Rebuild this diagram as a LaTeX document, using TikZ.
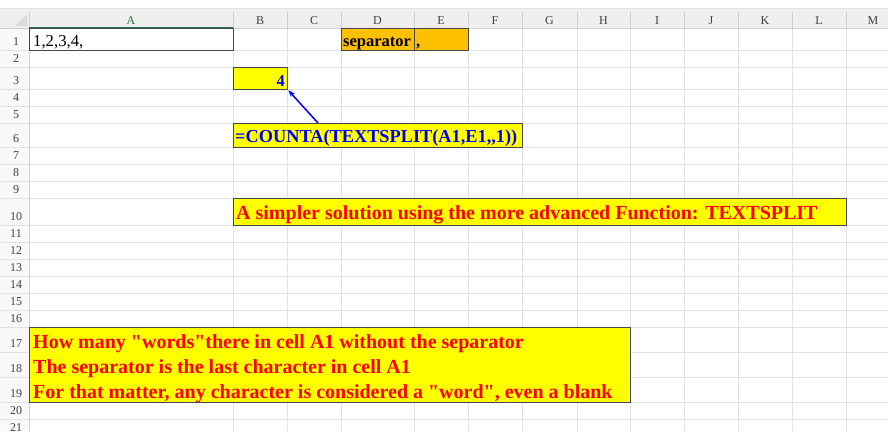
\documentclass[tikz,border=0pt]{standalone}
\usepackage{fontspec}
\setmainfont{Liberation Serif}
\newfontfamily\xlfont{Liberation Serif}
\usepackage{tikz}
\usetikzlibrary{positioning, arrows.meta}

\definecolor{gridgray}{HTML}{E2E2E2}
\definecolor{headgray}{HTML}{EFEFEF}
\definecolor{headline}{HTML}{CFCFCF}
\definecolor{xlgreen}{HTML}{217346}
\definecolor{boxorange}{HTML}{FFC000}
\definecolor{boxyellow}{HTML}{FFFF00}
\definecolor{textblue}{HTML}{0000FF}
\definecolor{textred}{HTML}{FF0000}

\begin{document}
\begin{tikzpicture}[
        x=1pt, y=-1pt,
        cellbox/.style={draw=black!72, line width=1.3pt, anchor=north west, inner sep=0pt},
        collab/.style={font=\xlfont\fontsize{12}{12}\selectfont, text=black!75, anchor=base, inner sep=0pt},
        rowlab/.style={font=\xlfont\fontsize{12}{12}\selectfont, text=black!75, anchor=base, inner sep=0pt},
        plaintext/.style={font=\xlfont\fontsize{16.7}{20}\selectfont, anchor=base west, inner sep=0pt},
        boldtext/.style={font=\xlfont\bfseries\fontsize{16.5}{20}\selectfont, anchor=base west, inner sep=0pt},
        formtext/.style={font=\xlfont\bfseries\fontsize{18.3}{20}\selectfont, text=textblue, anchor=base west, inner sep=0pt},
        notetext/.style={font=\xlfont\bfseries\fontsize{20}{22}\selectfont, text=textred, anchor=base west, inner sep=0pt},
        arrow/.style={-{Stealth[length=7pt, width=5pt]}, textblue, line width=1.5pt}
    ]
    \useasboundingbox (0,0) rectangle (888,431);

    % Kopfzeile und Zeilenleiste
    \fill[headgray] (0,9) rectangle (888,28);
    \fill[gray!5] (0,28) rectangle (29,431);
    \draw[gridgray] (0,8.5) -- (888,8.5);
    \fill[gray!28] (27,14) -- (27,26) -- (15,26) -- cycle;

    % Gitterlinien
    \foreach \y in {50,67,89,106,123,147,164,181,198,225,242,259,276,293,310,327,352,377,402,419}
        \draw[gridgray, line width=0.8pt] (0,\y) -- (888,\y);
    \foreach \x in {233,287,341,414,468,522,577,630,684,738,792,846}
        \draw[gridgray, line width=0.8pt] (\x,28) -- (\x,431);
    \foreach \x in {233,287,341,414,468,522,577,630,684,738,792,846}
        \draw[headline, line width=0.8pt] (\x,12) -- (\x,28);
    \draw[headline, line width=0.8pt] (0,28) -- (888,28);
    \draw[headline, line width=0.8pt] (29,12) -- (29,431);
    \draw[xlgreen, line width=1.5pt] (29,27.5) -- (233,27.5);

    % Spaltenbuchstaben
    \node[collab, text=xlgreen] (colA) at (131,24.5) {A};
    \foreach \c/\x in {B/260,C/314,D/377.5,E/441,F/495,G/549.5,H/603.5,I/657,J/711,K/765,L/819,M/873}
        \node[collab] (col\c) at (\x,24.5) {\c};

    % Zeilennummern
    \foreach \r/\b in {1/50,2/67,3/89,4/106,5/123,6/147,7/164,8/181,9/198,10/225,11/242,12/259,13/276,14/293,15/310,16/327,17/352,18/377,19/402,20/419,21/436}
        \node[rowlab] (row\r) at (16,\b-4.5) {\r};

    % Zellen
    \node[cellbox, fill=white, minimum width=204pt, minimum height=22pt] (a1) at (29,28) {};
    \node[cellbox, fill=boxorange, minimum width=73pt, minimum height=22pt] (d1) at (341,28) {};
    \node[cellbox, fill=boxorange, minimum width=54pt, minimum height=22pt] (e1) at (414,28) {};
    \node[cellbox, fill=boxyellow, minimum width=54pt, minimum height=22pt] (b3) at (233,67) {};
    \node[cellbox, fill=boxyellow, minimum width=289pt, minimum height=24pt] (form) at (233,123) {};
    \node[cellbox, fill=boxyellow, minimum width=613pt, minimum height=27pt] (simpler) at (233,198) {};
    \node[cellbox, fill=boxyellow, minimum width=601pt, minimum height=75pt] (note) at (29,327) {};

    % Texte
    \node[plaintext] (a1text) at (33,46) {1,2,3,4,};
    \node[boldtext] (d1text) at (343,46) {separator};
    \node[boldtext] (e1text) at (416,46) {,};
    \node[font=\xlfont\bfseries\fontsize{16.5}{20}\selectfont, text=textblue, anchor=base east, inner sep=0pt] (b3text) at (285,86) {4};
    \node[formtext] (formtext) at (235,142.5) {=COUNTA(TEXTSPLIT(A1,E1,\kern0pt,1))};
    \node[notetext] (simplertext) at (236,219) {A simpler solution using the more advanced Function: TEXTSPLIT};
    \node[notetext] (line17) at (33,348) {How many "words"there in cell A1 without the separator};
    \node[notetext] (line18) at (33,373) {The separator is the last character in cell A1};
    \node[notetext] (line19) at (33,398) {For that matter, any character is considered a "word", even a blank};

    % Pfeil
    \coordinate (arrowtail) at (318,123);
    \draw[arrow] (arrowtail) -- (b3.south east);
\end{tikzpicture}
\end{document}
